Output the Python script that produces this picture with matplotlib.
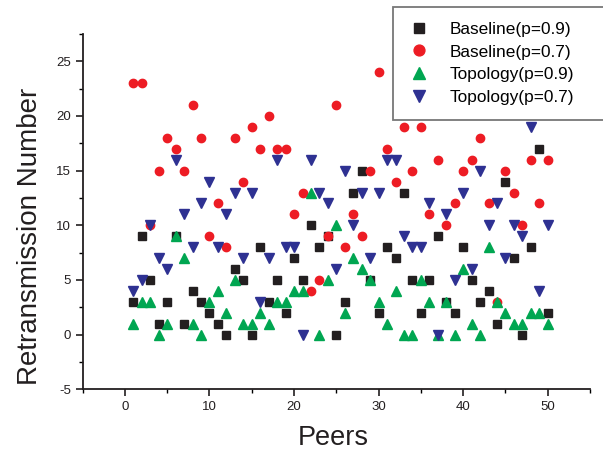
import matplotlib
matplotlib.use('Agg')
import matplotlib.pyplot as plt
from matplotlib.ticker import MultipleLocator

plt.rcParams['font.family'] = ['Liberation Sans', 'DejaVu Sans']
plt.rcParams['axes.unicode_minus'] = False

# peers 1..50
peers = list(range(1, 51))

baseline_09 = [3, 9, 5, 1, 3, 9, 1, 4, 3, 2,
               1, 0, 6, 5, 0, 8, 3, 5, 2, 7,
               5, 10, 8, 9, 0, 3, 13, 15, 5, 2,
               8, 7, 13, 5, 2, 5, 9, 3, 2, 8,
               5, 3, 4, 1, 14, 7, 0, 8, 17, 2]

baseline_07 = [23, 23, 10, 15, 18, 17, 15, 21, 18, 9,
               12, 8, 18, 14, 19, 17, 20, 17, 17, 11,
               13, 4, 5, 9, 21, 8, 11, 9, 15, 24,
               17, 14, 19, 15, 19, 11, 16, 10, 12, 15,
               16, 18, 12, 3, 15, 13, 10, 16, 12, 16]

topology_09 = [1, 3, 3, 0, 1, 9, 7, 1, 0, 3,
               4, 2, 5, 1, 1, 2, 1, 3, 3, 4,
               4, 13, 0, 5, 10, 2, 7, 6, 5, 3,
               1, 4, 0, 0, 5, 3, 0, 3, 0, 6,
               1, 0, 8, 3, 2, 1, 1, 2, 2, 1]

topology_07 = [4, 5, 10, 7, 6, 16, 11, 8, 12, 14,
               8, 11, 13, 7, 13, 3, 7, 16, 8, 8,
               0, 16, 13, 12, 6, 15, 10, 13, 7, 13,
               16, 16, 9, 8, 8, 12, 0, 11, 5, 13,
               6, 15, 10, 12, 7, 10, 9, 19, 4, 10]

fig = plt.figure(figsize=(6.03, 4.54), dpi=100)
ax = fig.add_axes([0.1371, 0.1425, 0.8413, 0.7826])

ax.plot(peers, baseline_09, 's', color='#231f20', markersize=5.3, label='Baseline(p=0.9)')
ax.plot(peers, baseline_07, 'o', color='#ed1c24', markersize=6.0, label='Baseline(p=0.7)')
ax.plot(peers, topology_09, '^', color='#00a651', markersize=6.5, label='Topology(p=0.9)')
ax.plot(peers, topology_07, 'v', color='#2e3192', markersize=6.5, label='Topology(p=0.7)')

ax.set_xlim(-5, 55)
ax.set_ylim(-5, 27.5)
ax.xaxis.set_major_locator(MultipleLocator(10))
ax.xaxis.set_minor_locator(MultipleLocator(5))
ax.yaxis.set_minor_locator(MultipleLocator(2.5))
ax.set_yticks([-5, 0, 5, 10, 15, 20, 25])
ax.tick_params(which='major', direction='out', length=5, width=1.2, labelsize=9.5, colors='#231f20')
ax.tick_params(which='minor', direction='out', length=3, width=1.0)

for side in ['top', 'right']:
    ax.spines[side].set_visible(False)
for side in ['left', 'bottom']:
    ax.spines[side].set_linewidth(1.3)
    ax.spines[side].set_color('#231f20')

fig.text(0.05, 0.48, 'Retransmission Number', rotation=90, fontsize=20,
         ha='center', va='center', color='#231f20')
fig.text(0.553, 0.035, 'Peers', fontsize=19.5, ha='center', va='center', color='#231f20')

# legend box runs past the right edge of the figure
leg = ax.legend(loc='upper left',
                bbox_to_anchor=(392.7 / 603, 1 - 115 / 454, 0.4, 108 / 454),
                bbox_transform=fig.transFigure, mode='expand', fontsize=12.4,
                markerscale=1.3, handlelength=1.3, handletextpad=1.15,
                labelspacing=0.45, borderpad=0.85, borderaxespad=0, fancybox=False)
leg.get_frame().set_edgecolor('#555555')
leg.get_frame().set_linewidth(1.3)

fig.savefig('out.png', dpi=100)
